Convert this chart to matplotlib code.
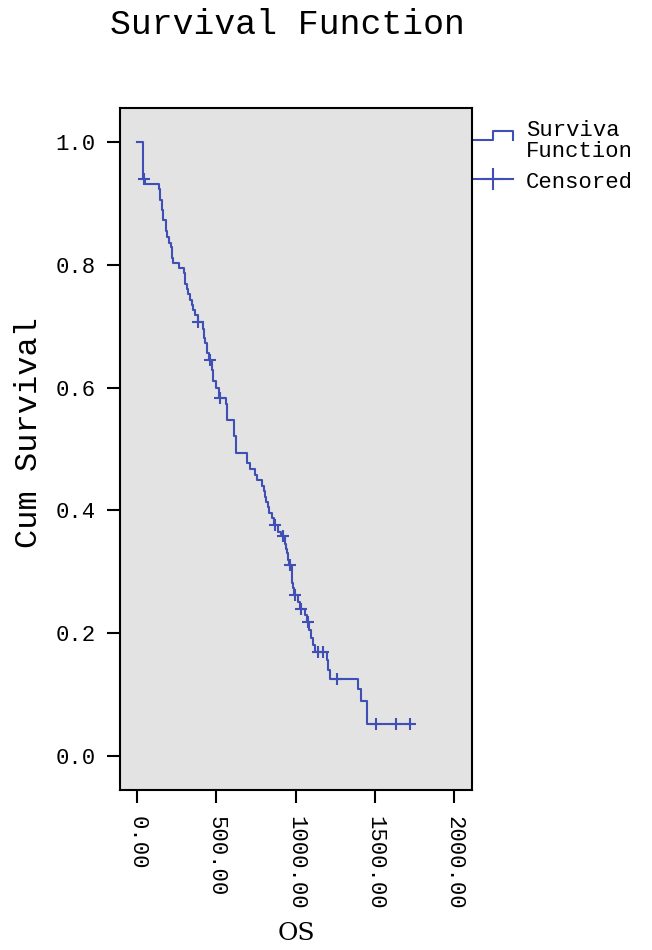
import numpy as np
import matplotlib
matplotlib.use("Agg")
import matplotlib.pyplot as plt

# step times (days) and survival value after each drop
event_times = [0, 36, 50, 139, 145, 156, 166, 181, 187, 204, 214, 222, 229, 267,
               298, 302, 316, 324, 334, 345, 355, 368, 383, 418, 425, 429, 443,
               455, 471, 481, 500, 515, 559, 565, 611, 624, 692, 712, 744, 759,
               786, 800, 807, 815, 824, 835, 849, 862, 891, 905, 933, 940, 948,
               955, 960, 975, 980, 986, 990, 1017, 1025, 1059, 1070, 1087, 1095,
               1108, 1120, 1196, 1205, 1217, 1396, 1412, 1448]
survival = [1.0, 0.939, 0.932, 0.923, 0.906, 0.889, 0.872, 0.855, 0.845, 0.836,
            0.828, 0.811, 0.802, 0.794, 0.786, 0.769, 0.761, 0.753, 0.742, 0.734,
            0.726, 0.718, 0.707, 0.696, 0.680, 0.672, 0.656, 0.645, 0.629, 0.611,
            0.600, 0.583, 0.574, 0.548, 0.521, 0.494, 0.477, 0.467, 0.458, 0.449,
            0.440, 0.431, 0.422, 0.413, 0.405, 0.396, 0.387, 0.376, 0.365, 0.358,
            0.346, 0.338, 0.330, 0.320, 0.311, 0.292, 0.282, 0.273, 0.262, 0.251,
            0.240, 0.230, 0.218, 0.205, 0.193, 0.181, 0.170, 0.156, 0.141, 0.126,
            0.110, 0.090, 0.053]
end_time = 1721

censored_times = [44, 387, 460, 523, 870, 922, 965, 996, 1034, 1076, 1139, 1175,
                  1263, 1505, 1633, 1721]

xticks = [0, 500, 1000, 1500, 2000]
xtick_labels = ["0.00", "500.00", "1000.00", "1500.00", "2000.00"]
yticks = [0.0, 0.2, 0.4, 0.6, 0.8, 1.0]

BLUE = "#3f4fb5"
MONO = "Liberation Mono"

fig = plt.figure(figsize=(6.52, 9.50), dpi=100)
ax = fig.add_axes([120 / 652, 160 / 950, 352 / 652, 682 / 950])
ax.set_facecolor("#e3e3e3")

t = np.array(event_times + [end_time])
s = np.array(survival + [survival[-1]])
ax.step(t, s, where="post", color=BLUE, lw=1.5)

ct = np.array(censored_times)
idx = np.searchsorted(np.array(event_times), ct, side="right") - 1
cs = np.array(survival)[idx]
ax.plot(ct, cs, ls="none", marker="+", ms=9, mew=1.5, color=BLUE)

ax.set_xlim(-107, 2112)
ax.set_ylim(-0.055, 1.055)
ax.set_xticks(xticks)
ax.set_xticklabels(xtick_labels, rotation=-90, fontfamily=MONO, fontsize=16)
ax.set_yticks(yticks)
ax.set_yticklabels(["%.1f" % v for v in yticks], fontfamily=MONO, fontsize=16)
ax.tick_params(direction="out", length=9.5, width=1.5, colors="black")
ax.tick_params(axis="x", pad=9)
ax.tick_params(axis="y", pad=8)
for sp in ax.spines.values():
    sp.set_linewidth(1.5)

ax.set_ylabel("Cum Survival", fontfamily=MONO, fontsize=23)
ax.yaxis.set_label_coords((44 - 120) / 352, (790 - 432) / 682)
ax.set_xlabel("OS", fontfamily="DejaVu Serif", fontsize=18, labelpad=9)

fig.text(287 / 652, 1 - 25 / 950, "Survival Function", ha="center", va="center",
         fontfamily=MONO, fontsize=25)

# legend drawn by hand to the right of the plot area
def ax_pt(px, py):
    return (px - 120) / 352, (790 - py) / 682

lx, ly = zip(*[ax_pt(472, 140), ax_pt(493, 140), ax_pt(493, 130.5),
               ax_pt(513, 130.5), ax_pt(513, 140)])
ax.plot(lx, ly, color=BLUE, lw=1.5, transform=ax.transAxes, clip_on=False)
cx, cy = zip(*[ax_pt(472, 179), ax_pt(513, 179)])
ax.plot(cx, cy, color=BLUE, lw=1.5, transform=ax.transAxes, clip_on=False)
mx, my = ax_pt(493, 179)
ax.plot([mx], [my], marker="+", ms=16, mew=1.5, color=BLUE,
        transform=ax.transAxes, clip_on=False)
tx, ty = ax_pt(526, 141)
ax.text(tx, ty, "Surviva\nFunction", transform=ax.transAxes, ha="left",
        va="center", fontfamily=MONO, fontsize=16, linespacing=1.0)
tx, ty = ax_pt(526, 182)
ax.text(tx, ty, "Censored", transform=ax.transAxes, ha="left", va="center",
        fontfamily=MONO, fontsize=16)

fig.savefig("out.png", dpi=100)
